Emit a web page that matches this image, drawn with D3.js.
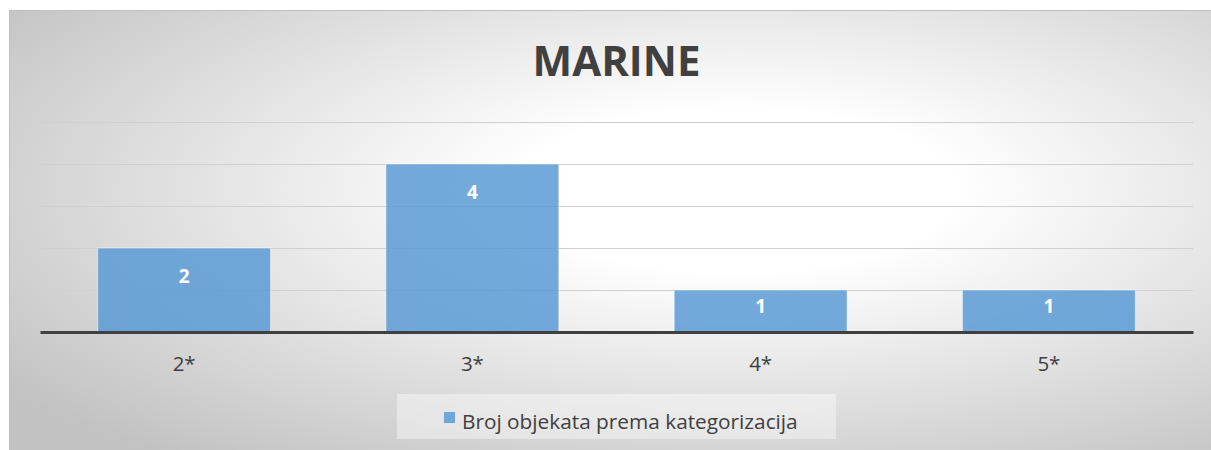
<!DOCTYPE html>
<html>
<head>
<meta charset="utf-8">
<script src="https://cdn.jsdelivr.net/npm/d3@7"></script>
<style>
  html, body { margin: 0; padding: 0; background: #ffffff; overflow: hidden; }
  svg { display: block; }
</style>
</head>
<body>
<svg id="chart" width="1211" height="450"></svg>
<script>
// ---- data ----
const categories = ["2*", "3*", "4*", "5*"];
const values = [2, 4, 1, 1];
const seriesName = "Broj objekata prema kategorizacija";
const chartTitle = "MARINE";
const yTicks = [0, 1, 2, 3, 4, 5];

// ---- layout ----
const W = 1211, H = 450;
const plot = { left: 40, right: 1193, top: 122, bottom: 332 };
const barColor = "#5b9bd5";
const textColor = "#404040";
const font = "'Open Sans', 'Liberation Sans', sans-serif";

const svg = d3.select("#chart");
const defs = svg.append("defs");
const grad = defs.append("radialGradient")
  .attr("id", "bg")
  .attr("cx", 0.6).attr("cy", 0.4).attr("r", 0.75)
  .attr("fx", 0.6).attr("fy", 0.4);
grad.append("stop").attr("offset", 0).attr("stop-color", "#ffffff");
grad.append("stop").attr("offset", 0.24).attr("stop-color", "#ffffff");
grad.append("stop").attr("offset", 1).attr("stop-color", "#c2c2c2");

// chart area background
svg.append("rect")
  .attr("x", 9.5).attr("y", 10.5)
  .attr("width", W).attr("height", H)
  .attr("fill", "url(#bg)")
  .attr("stroke", "#bfbfbf")
  .attr("stroke-width", 1);

const x = d3.scaleBand()
  .domain(categories)
  .range([plot.left, plot.right])
  .paddingInner(0.4)
  .paddingOuter(0.2);

const y = d3.scaleLinear()
  .domain([0, 5])
  .range([plot.bottom, plot.top]);

// gridlines via axis
const grid = svg.append("g")
  .attr("transform", `translate(${plot.left},0)`)
  .call(d3.axisLeft(y).tickValues(yTicks.filter(d => d > 0))
    .tickSize(-(plot.right - plot.left)).tickFormat(""));
grid.select(".domain").remove();
grid.selectAll(".tick line").attr("stroke", "#d0d0d0").attr("stroke-width", 1);

// bars
svg.append("g").selectAll("rect")
  .data(values)
  .join("rect")
  .attr("x", (d, i) => x(categories[i]))
  .attr("y", d => y(d))
  .attr("width", x.bandwidth())
  .attr("height", d => y(0) - y(d))
  .attr("fill", barColor)
  .attr("fill-opacity", 0.85)
  .attr("stroke", "rgba(255,255,255,0.55)")
  .attr("stroke-width", 1);

// value labels
svg.append("g").selectAll("text")
  .data(values)
  .join("text")
  .attr("x", (d, i) => x(categories[i]) + x.bandwidth() / 2)
  .attr("y", d => y(d) + Math.min(34.5, (y(0) - y(d)) * 0.55))
  .attr("text-anchor", "middle")
  .attr("fill", "#ffffff")
  .attr("font-family", font)
  .attr("font-weight", "bold")
  .attr("font-size", 19)
  .text(d => d);

// x axis
const xAxis = svg.append("g")
  .attr("transform", `translate(0,${plot.bottom})`)
  .call(d3.axisBottom(x).tickSize(0).tickPadding(0));
xAxis.select(".domain")
  .attr("stroke", textColor)
  .attr("stroke-width", 3);
xAxis.selectAll(".tick text")
  .attr("y", 38.5)
  .attr("dy", 0)
  .attr("fill", textColor)
  .attr("font-family", font)
  .attr("font-size", 20.5);

// title
svg.append("text")
  .attr("x", (plot.left + plot.right) / 2)
  .attr("y", 76)
  .attr("text-anchor", "middle")
  .attr("fill", textColor)
  .attr("font-family", font)
  .attr("font-weight", "bold")
  .attr("font-size", 42)
  .text(chartTitle);

// legend
const lg = svg.append("g");
lg.append("rect")
  .attr("x", 397).attr("y", 394)
  .attr("width", 439).attr("height", 45)
  .attr("fill", "#ffffff").attr("fill-opacity", 0.4);
lg.append("rect")
  .attr("x", 443.5).attr("y", 411.5)
  .attr("width", 12).attr("height", 12)
  .attr("fill", barColor).attr("fill-opacity", 0.85)
  .attr("stroke", "rgba(255,255,255,0.55)");
lg.append("text")
  .attr("x", 462)
  .attr("y", 429)
  .attr("fill", textColor)
  .attr("font-family", font)
  .attr("font-size", 20.8)
  .text(seriesName);
</script>
</body>
</html>
